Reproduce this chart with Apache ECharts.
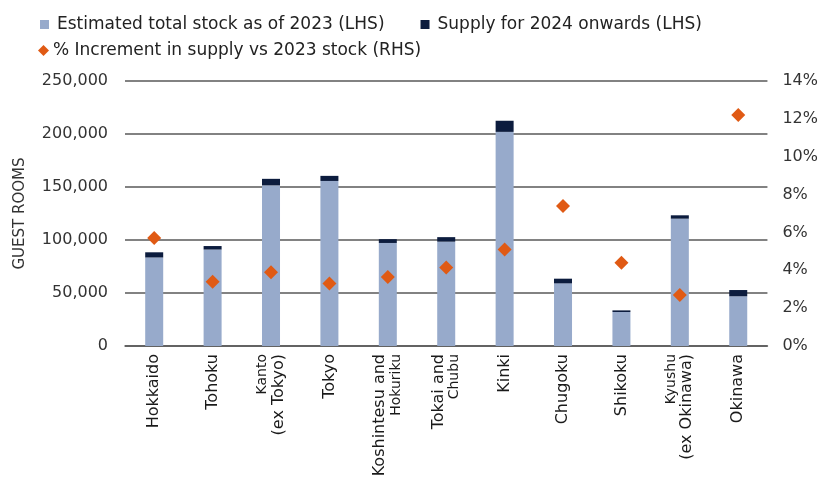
<!DOCTYPE html>
<html>
<head>
<meta charset="utf-8">
<script src="https://cdn.jsdelivr.net/npm/echarts@6/dist/echarts.min.js"></script>
<style>html,body{margin:0;padding:0;background:#fff}#c{width:821px;height:484px}</style>
</head>
<body>
<div id="c"></div>
<script>
const categories = ['Hokkaido','Tohoku','Kanto\n(ex Tokyo)','Tokyo','Koshintesu and\nHokuriku','Tokai and\nChubu','Kinki','Chugoku','Shikoku','Kyushu\n(ex Okinawa)','Okinawa'];
const stock2023 = [83500, 91000, 151500, 155700, 97200, 98400, 202000, 59100, 32100, 120100, 46900];
const supply2024 = [4900, 3300, 6200, 4800, 3600, 4300, 10500, 4400, 1500, 3200, 5900];
const pctIncrement = [5.7, 3.4, 3.9, 3.3, 3.65, 4.15, 5.1, 7.4, 4.4, 2.7, 12.2];
const seriesNames = ['Estimated total stock as of 2023 (LHS)', 'Supply for 2024 onwards (LHS)', '% Increment in supply vs 2023 stock (RHS)'];

const FONT = 'DejaVu Sans';
const chart = echarts.init(document.getElementById('c'), null, {renderer: 'canvas'});
chart.setOption({
  animation: false,
  backgroundColor: '#fff',
  legend: [
    {data: [{name: seriesNames[0], icon: 'rect'}, {name: seriesNames[1], icon: 'rect'}],
     left: 40, top: 16, itemWidth: 9, itemHeight: 9, itemGap: 36, padding: 0,
     textStyle: {fontFamily: FONT, fontSize: 17, color: '#222', padding: [0,0,0,3]}},
    {data: [{name: seriesNames[2], icon: 'diamond'}],
     left: 38, top: 42, itemWidth: 11, itemHeight: 11, padding: 0,
     textStyle: {fontFamily: FONT, fontSize: 17, color: '#222', padding: [0,0,0,-1]}}
  ],
  grid: {left: 125, right: 49, top: 81, bottom: 138},
  xAxis: {
    type: 'category', data: categories,
    axisLine: {lineStyle: {color: '#595959', width: 1.5}},
    axisTick: {show: false},
    axisLabel: {
      rotate: 90, interval: 0, margin: 8, color: '#1a1a1a', fontFamily: FONT, fontSize: 16,
      formatter: function (v) {
        const parts = v.split('\n');
        if (parts.length === 1) return '{b|' + v + '}';
        const shortIdx = parts[0].length < parts[1].length ? 0 : 1;
        return parts.map((p, i) => (i === shortIdx ? '{s|' + p + '}' : '{b|' + p + '}')).join('\n');
      },
      rich: {
        b: {fontFamily: FONT, fontSize: 16, color: '#1a1a1a', lineHeight: 17},
        s: {fontFamily: FONT, fontSize: 14, color: '#1a1a1a', lineHeight: 15}
      }
    }
  },
  yAxis: [
    {type: 'value', min: 0, max: 250000, interval: 50000,
     name: 'GUEST ROOMS', nameLocation: 'middle', nameGap: 97, nameRotate: 90,
     nameTextStyle: {fontFamily: FONT, fontSize: 15, color: '#333'},
     axisLine: {show: false}, axisTick: {show: false},
     axisLabel: {margin: 17, color: '#333', fontFamily: FONT, fontSize: 16,
       formatter: v => v.toLocaleString('en-US')},
     splitLine: {lineStyle: {color: '#595959', width: 1.5}}},
    {type: 'value', min: 0, max: 14, interval: 2,
     axisLine: {show: false}, axisTick: {show: false},
     axisLabel: {margin: 15, color: '#333', fontFamily: FONT, fontSize: 16, formatter: '{value}%'},
     splitLine: {show: false}}
  ],
  series: [
    {name: seriesNames[0], type: 'bar', stack: 'lhs', data: stock2023, barWidth: 18,
     itemStyle: {color: '#97aacb'}},
    {name: seriesNames[1], type: 'bar', stack: 'lhs', data: supply2024, barWidth: 18,
     itemStyle: {color: '#0c1c3e'}},
    {name: seriesNames[2], type: 'scatter', yAxisIndex: 1, data: pctIncrement,
     symbol: 'diamond', symbolSize: [14, 14], itemStyle: {color: '#e05a14', opacity: 1}, z: 5}
  ]
});
</script>
</body>
</html>
